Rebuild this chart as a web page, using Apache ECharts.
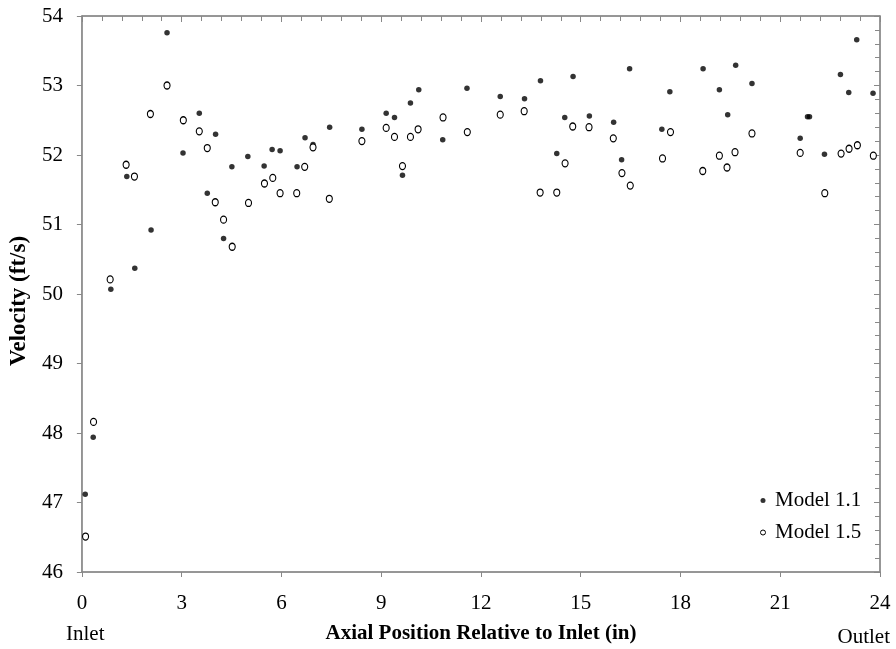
<!DOCTYPE html>
<html>
<head>
<meta charset="utf-8">
<script src="https://cdn.jsdelivr.net/npm/echarts@6/dist/echarts.min.js"></script>
<style>
  html, body { margin: 0; padding: 0; background: #fff; }
  #chart { width: 896px; height: 649px; }
</style>
</head>
<body>
<div id="chart"></div>
<script>
// axial position (in), velocity (ft/s)
const model11 = [
  [0.10, 47.12], [0.34, 47.94], [0.87, 50.07], [1.35, 51.69], [1.59, 50.37], [2.08, 50.92],
  [2.56, 53.76], [3.04, 52.03], [3.53, 52.60], [3.77, 51.45], [4.02, 52.30], [4.26, 50.80],
  [4.51, 51.83], [4.99, 51.98], [5.48, 51.84], [5.72, 52.08], [5.96, 52.06], [6.47, 51.83],
  [6.71, 52.25], [6.95, 52.15], [7.45, 52.40], [8.42, 52.37], [9.15, 52.60], [9.40, 52.54],
  [9.64, 51.71], [9.88, 52.75], [10.13, 52.94], [10.85, 52.22], [11.58, 52.96], [12.58, 52.84],
  [13.31, 52.81], [13.79, 53.07], [14.28, 52.02], [14.52, 52.54], [14.77, 53.13], [15.26, 52.56],
  [15.99, 52.47], [16.23, 51.93], [16.47, 53.24], [17.44, 52.37], [17.68, 52.91], [18.68, 53.24],
  [19.17, 52.94], [19.42, 52.58], [19.66, 53.29], [20.15, 53.03], [21.60, 52.24], [21.82, 52.55],
  [21.88, 52.55], [22.33, 52.01], [22.81, 53.16], [23.06, 52.90], [23.30, 53.66], [23.79, 52.89]
];
const model15 = [
  [0.11, 46.51], [0.35, 48.16], [0.85, 50.21], [1.33, 51.86], [1.58, 51.69], [2.06, 52.59],
  [2.56, 53.00], [3.05, 52.50], [3.53, 52.34], [3.77, 52.10], [4.01, 51.32], [4.26, 51.07],
  [4.52, 50.68], [5.01, 51.31], [5.49, 51.59], [5.74, 51.67], [5.96, 51.45], [6.46, 51.45],
  [6.70, 51.83], [6.95, 52.11], [7.44, 51.37], [8.42, 52.20], [9.15, 52.39], [9.40, 52.26],
  [9.64, 51.84], [9.88, 52.26], [10.11, 52.37], [10.86, 52.54], [11.59, 52.33], [12.58, 52.58],
  [13.30, 52.63], [13.78, 51.46], [14.28, 51.46], [14.53, 51.88], [14.76, 52.41], [15.25, 52.40],
  [15.98, 52.24], [16.24, 51.74], [16.49, 51.56], [17.46, 51.95], [17.70, 52.33], [18.67, 51.77],
  [19.17, 51.99], [19.40, 51.82], [19.64, 52.04], [20.15, 52.31], [21.60, 52.03], [22.34, 51.45],
  [22.83, 52.02], [23.07, 52.09], [23.32, 52.14], [23.80, 51.99]
];
const xRange = [0, 24, 3];
const yRange = [46, 54, 1];
const endLabels = ['Inlet', 'Outlet'];

const serif = '"Liberation Serif", "Times New Roman", serif';
const gray = '#888';

const chart = echarts.init(document.getElementById('chart'));

// two copies of each axis: one carries the outside ticks + labels,
// the other the inside ticks and the minor ticks
function axisPair(r, labelMargin, name, nameGap, nameSize, namePad) {
  const base = {
    type: 'value', min: r[0], max: r[1], interval: r[2],
    splitLine: { show: false },
    axisLine: { show: true, onZero: false, lineStyle: { color: gray, width: 1.5 } }
  };
  return [
    Object.assign({}, base, {
      name: name, nameLocation: 'middle', nameGap: nameGap,
      nameTextStyle: { fontFamily: serif, fontWeight: 'bold', fontSize: nameSize, color: '#000', padding: namePad },
      axisTick: { show: true, inside: false, length: 5, lineStyle: { color: gray } },
      axisLabel: { fontFamily: serif, fontSize: 21, color: '#000', margin: labelMargin }
    }),
    Object.assign({}, base, {
      axisLabel: { show: false },
      axisTick: { show: true, inside: true, length: 6, lineStyle: { color: gray } },
      minorTick: { show: true, splitNumber: 5, length: 5, lineStyle: { color: gray } }
    })
  ];
}

const option = {
  animation: false,
  backgroundColor: '#fff',
  grid: { left: 78, right: 16, top: 16, bottom: 76, show: true, borderColor: gray, borderWidth: 1, backgroundColor: 'transparent' },
  xAxis: axisPair(xRange, 21, 'Axial Position Relative to Inlet (in)', 51, 21, 0),
  yAxis: axisPair(yRange, 19, 'Velocity (ft/s)', 49, 23, [0, 14, 0, 0]),
  legend: {
    orient: 'vertical', left: 760, top: 490, itemGap: 11, padding: 0,
    itemWidth: 8, itemHeight: 5,
    textStyle: { fontFamily: serif, fontSize: 21, color: '#000', padding: [0, 0, 0, 3] },
    data: [
      { name: 'Model 1.1', icon: 'circle', itemStyle: { color: '#000', borderWidth: 0 } },
      { name: 'Model 1.5', icon: 'circle', itemStyle: { color: '#fff', borderColor: '#000', borderWidth: 1 } }
    ]
  },
  graphic: [
    { type: 'text', left: 66, top: 624, style: { text: endLabels[0], font: '21px ' + serif, fill: '#000' } },
    { type: 'text', right: 6, top: 627, style: { text: endLabels[1], font: '21px ' + serif, fill: '#000' } }
  ],
  series: [
    {
      name: 'Model 1.1', type: 'scatter', data: model11,
      symbol: 'circle', symbolSize: 5.5,
      itemStyle: { color: '#000' }
    },
    {
      name: 'Model 1.5', type: 'scatter', data: model15,
      symbol: 'circle', symbolSize: [6, 7],
      itemStyle: { color: '#fff', borderColor: '#000', borderWidth: 1.2, opacity: 1 }
    }
  ]
};
chart.setOption(option);
</script>
</body>
</html>
